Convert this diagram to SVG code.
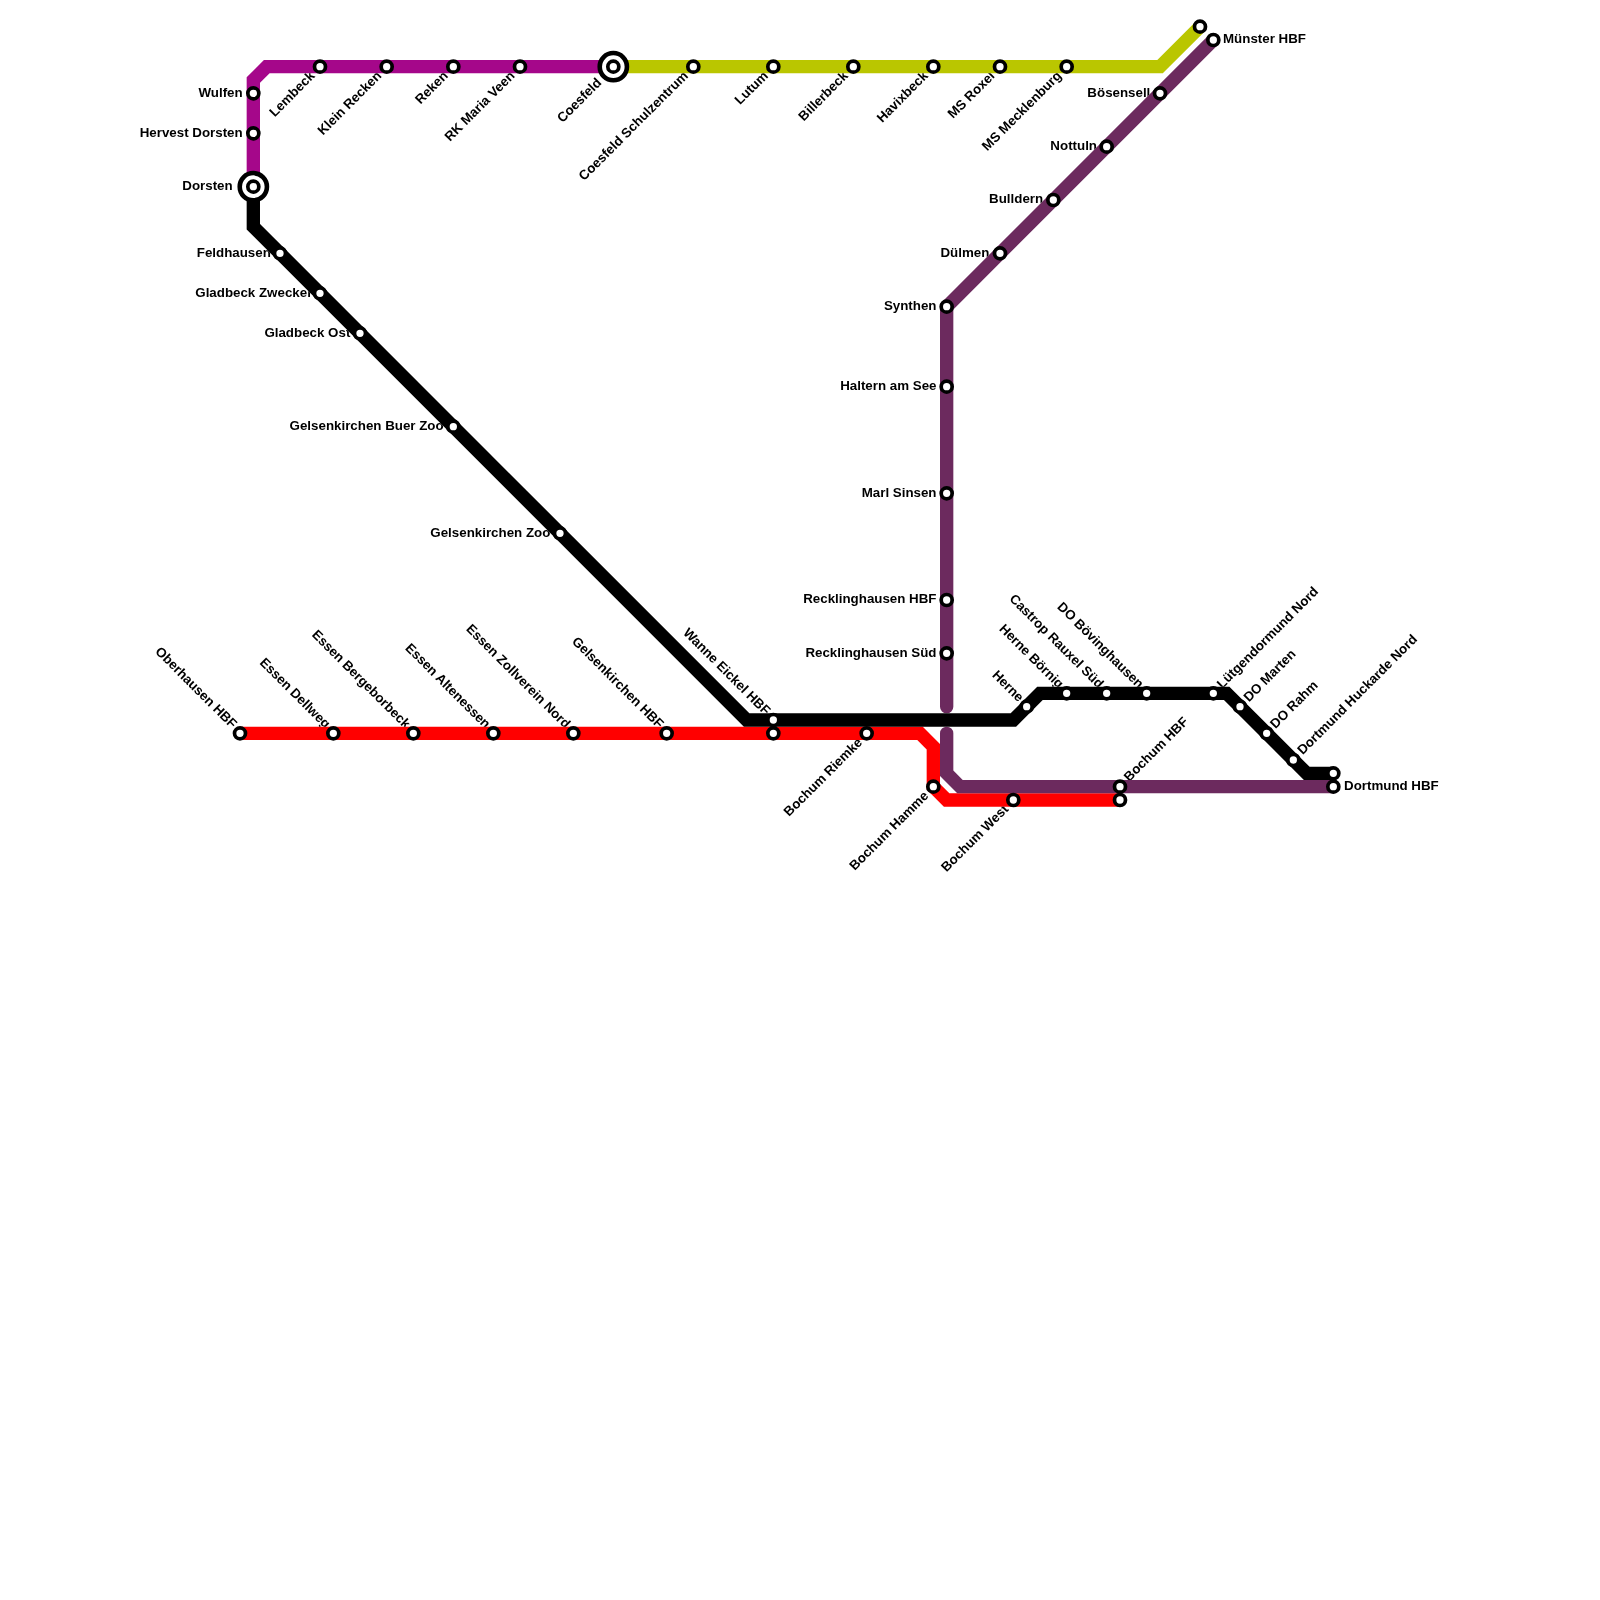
<svg xmlns="http://www.w3.org/2000/svg" width="1600" height="1600" viewBox="0 0 1600 1600">
<style>
text{font-family:"Liberation Sans",Arial,sans-serif;font-size:13.33px;font-weight:700;fill:#000}
.e{text-anchor:end}
.line{fill:none;stroke-width:13.33;stroke-linejoin:miter}
.cut{fill:none;stroke:#000;stroke-width:13.33}
.st{fill:#fff;stroke:#000;stroke-width:3.7}
.hub{fill:#fff;stroke:#000;stroke-width:4.6}
</style>
<defs>
<mask id="off" maskUnits="userSpaceOnUse" x="0" y="0" width="1600" height="1600">
<rect width="1600" height="1600" fill="#fff"/>
<path class="cut" d="M253.33 186.67V80L266.67 66.67H613.33"/>
<path class="cut" d="M613.33 66.67H1160L1200 26.67"/>
<path class="cut" d="M240 733.33H920L933.33 746.67V786.67L946.67 800H1120"/>
<path class="cut" d="M1213.33 40L946.67 306.67V706.67"/>
<path class="cut" d="M946.67 733.33V773.33L960 786.67H1333.33"/>
<path class="cut" d="M253.33 186.67V226.67L746.67 720H1013.33L1040 693.33H1226.67L1306.67 773.33H1333.33"/>
</mask>
</defs>
<rect width="1600" height="1600" fill="#fff"/>
<g id="connectors">
<path id="line-magenta" class="line" stroke="#a5078a" d="M253.33 186.67V80L266.67 66.67H613.33"/>
<path id="line-yellow" class="line" stroke="#bac600" d="M613.33 66.67H1160L1200 26.67"/>
<path id="line-red" class="line" stroke="#ff0000" d="M240 733.33H920L933.33 746.67V786.67L946.67 800H1120"/>
<path id="line-purple-north" class="line" stroke="#6c2a5e" stroke-linecap="round" d="M1213.33 40L946.67 306.67V706.67"/>
<path id="line-purple-south" class="line" stroke="#6c2a5e" stroke-linecap="round" d="M946.67 733.33V773.33L960 786.67H1333.33"/>
<path id="line-black" class="line" stroke="#000" d="M253.33 186.67V226.67L746.67 720H1013.33L1040 693.33H1226.67L1306.67 773.33H1333.33"/>
</g>
<g id="n-wulfen"><g mask="url(#off)"><text class="e" x="242.67" y="96.67">Wulfen</text></g><circle class="st" cx="253.33" cy="93.33" r="5.5"/></g>
<g id="n-hervest"><g mask="url(#off)"><text class="e" x="242.67" y="136.67">Hervest Dorsten</text></g><circle class="st" cx="253.33" cy="133.33" r="5.5"/></g>
<g id="n-dorsten"><g mask="url(#off)"><text class="e" x="232.67" y="190">Dorsten</text></g><circle class="hub" cx="253.33" cy="186.67" r="13.6"/><circle class="st" cx="253.33" cy="186.67" r="5.5"/></g>
<g id="n-feldhausen"><g mask="url(#off)"><text class="e" x="270.83" y="256.67">Feldhausen</text></g><circle class="st" cx="280" cy="253.33" r="5.5"/></g>
<g id="n-zwecker"><g mask="url(#off)"><text class="e" x="312.33" y="296.67">Gladbeck Zwecker</text></g><circle class="st" cx="320" cy="293.33" r="5.5"/></g>
<g id="n-gladbeck-ost"><g mask="url(#off)"><text class="e" x="350.33" y="336.67">Gladbeck Ost</text></g><circle class="st" cx="360" cy="333.33" r="5.5"/></g>
<g id="n-buer-zoo"><g mask="url(#off)"><text class="e" x="443.67" y="430">Gelsenkirchen Buer Zoo</text></g><circle class="st" cx="453.33" cy="426.67" r="5.5"/></g>
<g id="n-ge-zoo"><g mask="url(#off)"><text class="e" x="550.33" y="536.67">Gelsenkirchen Zoo</text></g><circle class="st" cx="560" cy="533.33" r="5.5"/></g>
<g id="n-lembeck"><g mask="url(#off)"><text class="e" transform="translate(315.5 76.57) rotate(-45)">Lembeck</text></g><circle class="st" cx="320" cy="66.67" r="5.5"/></g>
<g id="n-klein-recken"><g mask="url(#off)"><text class="e" transform="translate(382.17 76.57) rotate(-45)">Klein Recken</text></g><circle class="st" cx="386.67" cy="66.67" r="5.5"/></g>
<g id="n-reken"><g mask="url(#off)"><text class="e" transform="translate(448.83 76.57) rotate(-45)">Reken</text></g><circle class="st" cx="453.33" cy="66.67" r="5.5"/></g>
<g id="n-rk-maria-veen"><g mask="url(#off)"><text class="e" transform="translate(515.5 76.57) rotate(-45)">RK Maria Veen</text></g><circle class="st" cx="520" cy="66.67" r="5.5"/></g>
<g id="n-coesfeld"><g mask="url(#off)"><text class="e" transform="translate(602.2 83.5) rotate(-45)">Coesfeld</text></g><circle class="hub" cx="613.33" cy="66.67" r="13.6"/><circle class="st" cx="613.33" cy="66.67" r="5.5"/></g>
<g id="n-schulzentrum"><g mask="url(#off)"><text class="e" transform="translate(688.83 76.57) rotate(-45)">Coesfeld Schulzentrum</text></g><circle class="st" cx="693.33" cy="66.67" r="5.5"/></g>
<g id="n-lutum"><g mask="url(#off)"><text class="e" transform="translate(768.83 76.57) rotate(-45)">Lutum</text></g><circle class="st" cx="773.33" cy="66.67" r="5.5"/></g>
<g id="n-billerbeck"><g mask="url(#off)"><text class="e" transform="translate(848.83 76.57) rotate(-45)">Billerbeck</text></g><circle class="st" cx="853.33" cy="66.67" r="5.5"/></g>
<g id="n-havixbeck"><g mask="url(#off)"><text class="e" transform="translate(928.83 76.57) rotate(-45)">Havixbeck</text></g><circle class="st" cx="933.33" cy="66.67" r="5.5"/></g>
<g id="n-ms-roxel"><g mask="url(#off)"><text class="e" transform="translate(995.5 76.57) rotate(-45)">MS Roxel</text></g><circle class="st" cx="1000" cy="66.67" r="5.5"/></g>
<g id="n-ms-mecklenburg"><g mask="url(#off)"><text class="e" transform="translate(1062.17 76.57) rotate(-45)">MS Mecklenburg</text></g><circle class="st" cx="1066.67" cy="66.67" r="5.5"/></g>
<g id="n-yellow-end"><circle class="st" cx="1200" cy="26.67" r="5.5"/></g>
<g id="n-muenster"><g mask="url(#off)"><text x="1223" y="43.33">Münster HBF</text></g><circle class="st" cx="1213.33" cy="40" r="5.5"/></g>
<g id="n-boesensell"><g mask="url(#off)"><text class="e" x="1150.33" y="96.67">Bösensell</text></g><circle class="st" cx="1160" cy="93.33" r="5.5"/></g>
<g id="n-nottuln"><g mask="url(#off)"><text class="e" x="1097" y="150">Nottuln</text></g><circle class="st" cx="1106.67" cy="146.67" r="5.5"/></g>
<g id="n-bulldern"><g mask="url(#off)"><text class="e" x="1043.17" y="203.33">Bulldern</text></g><circle class="st" cx="1053.33" cy="200" r="5.5"/></g>
<g id="n-duelmen"><g mask="url(#off)"><text class="e" x="989.33" y="256.67">Dülmen</text></g><circle class="st" cx="1000" cy="253.33" r="5.5"/></g>
<g id="n-synthen"><g mask="url(#off)"><text class="e" x="936.5" y="310">Synthen</text></g><circle class="st" cx="946.67" cy="306.67" r="5.5"/></g>
<g id="n-haltern"><g mask="url(#off)"><text class="e" x="936.5" y="390">Haltern am See</text></g><circle class="st" cx="946.67" cy="386.67" r="5.5"/></g>
<g id="n-marl"><g mask="url(#off)"><text class="e" x="936.5" y="496.67">Marl Sinsen</text></g><circle class="st" cx="946.67" cy="493.33" r="5.5"/></g>
<g id="n-re-hbf"><g mask="url(#off)"><text class="e" x="936.5" y="603.33">Recklinghausen HBF</text></g><circle class="st" cx="946.67" cy="600" r="5.5"/></g>
<g id="n-re-sued"><g mask="url(#off)"><text class="e" x="936.5" y="656.67">Recklinghausen Süd</text></g><circle class="st" cx="946.67" cy="653.33" r="5.5"/></g>
<g id="n-oberhausen"><g mask="url(#off)"><text class="e" transform="translate(231.6 729.13) rotate(45)">Oberhausen HBF</text></g><circle class="st" cx="240" cy="733.33" r="5.5"/></g>
<g id="n-dellweg"><g mask="url(#off)"><text class="e" transform="translate(324.93 729.13) rotate(45)">Essen Dellweg</text></g><circle class="st" cx="333.33" cy="733.33" r="5.5"/></g>
<g id="n-bergeborbeck"><g mask="url(#off)"><text class="e" transform="translate(404.93 729.13) rotate(45)">Essen Bergeborbeck</text></g><circle class="st" cx="413.33" cy="733.33" r="5.5"/></g>
<g id="n-altenessen"><g mask="url(#off)"><text class="e" transform="translate(484.93 729.13) rotate(45)">Essen Altenessen</text></g><circle class="st" cx="493.33" cy="733.33" r="5.5"/></g>
<g id="n-zollverein"><g mask="url(#off)"><text class="e" transform="translate(564.93 729.13) rotate(45)">Essen Zollverein Nord</text></g><circle class="st" cx="573.33" cy="733.33" r="5.5"/></g>
<g id="n-ge-hbf"><g mask="url(#off)"><text class="e" transform="translate(658.27 729.13) rotate(45)">Gelsenkirchen HBF</text></g><circle class="st" cx="666.67" cy="733.33" r="5.5"/></g>
<g id="n-wanne-eickel"><g mask="url(#off)"><text class="e" transform="translate(764.93 715.8) rotate(45)">Wanne Eickel HBF</text></g><circle class="st" cx="773.33" cy="720" r="5.5"/></g>
<g id="n-wanne-red"><circle class="st" cx="773.33" cy="733.33" r="5.5"/></g>
<g id="n-riemke"><g mask="url(#off)"><text class="e" transform="translate(862.97 743.23) rotate(-45)">Bochum Riemke</text></g><circle class="st" cx="866.67" cy="733.33" r="5.5"/></g>
<g id="n-hamme"><g mask="url(#off)"><text class="e" transform="translate(929.13 796.57) rotate(-45)">Bochum Hamme</text></g><circle class="st" cx="933.33" cy="786.67" r="5.5"/></g>
<g id="n-bochum-west"><g mask="url(#off)"><text class="e" transform="translate(1009.13 809.9) rotate(-45)">Bochum West</text></g><circle class="st" cx="1013.33" cy="800" r="5.5"/></g>
<g id="n-bochum-hbf"><g mask="url(#off)"><text transform="translate(1129.2 782.17) rotate(-45)">Bochum HBF</text></g><circle class="st" cx="1120" cy="786.67" r="5.5"/></g>
<g id="n-bochum-hbf-red"><circle class="st" cx="1120" cy="800" r="5.5"/></g>
<g id="n-herne"><g mask="url(#off)"><text class="e" transform="translate(1018.27 702.47) rotate(45)">Herne</text></g><circle class="st" cx="1026.67" cy="706.67" r="5.5"/></g>
<g id="n-boernig"><g mask="url(#off)"><text class="e" transform="translate(1058.27 689.13) rotate(45)">Herne Börnig</text></g><circle class="st" cx="1066.67" cy="693.33" r="5.5"/></g>
<g id="n-castrop"><g mask="url(#off)"><text class="e" transform="translate(1098.27 689.13) rotate(45)">Castrop Rauxel Süd</text></g><circle class="st" cx="1106.67" cy="693.33" r="5.5"/></g>
<g id="n-boevinghausen"><g mask="url(#off)"><text class="e" transform="translate(1138.27 689.13) rotate(45)">DO Bövinghausen</text></g><circle class="st" cx="1146.67" cy="693.33" r="5.5"/></g>
<g id="n-luetgendortmund"><g mask="url(#off)"><text transform="translate(1222.23 689.13) rotate(-45)">Lütgendormund Nord</text></g><circle class="st" cx="1213.33" cy="693.33" r="5.5"/></g>
<g id="n-marten"><g mask="url(#off)"><text transform="translate(1248.9 702.47) rotate(-45)">DO Marten</text></g><circle class="st" cx="1240" cy="706.67" r="5.5"/></g>
<g id="n-rahm"><g mask="url(#off)"><text transform="translate(1275.57 729.13) rotate(-45)">DO Rahm</text></g><circle class="st" cx="1266.67" cy="733.33" r="5.5"/></g>
<g id="n-huckarde"><g mask="url(#off)"><text transform="translate(1302.73 755.3) rotate(-45)">Dortmund Huckarde Nord</text></g><circle class="st" cx="1293.33" cy="760" r="5.5"/></g>
<g id="n-dortmund-black"><circle class="st" cx="1333.33" cy="773.33" r="5.5"/></g>
<g id="n-dortmund"><g mask="url(#off)"><text x="1344" y="790">Dortmund HBF</text></g><circle class="st" cx="1333.33" cy="786.67" r="5.5"/></g>
</svg>
